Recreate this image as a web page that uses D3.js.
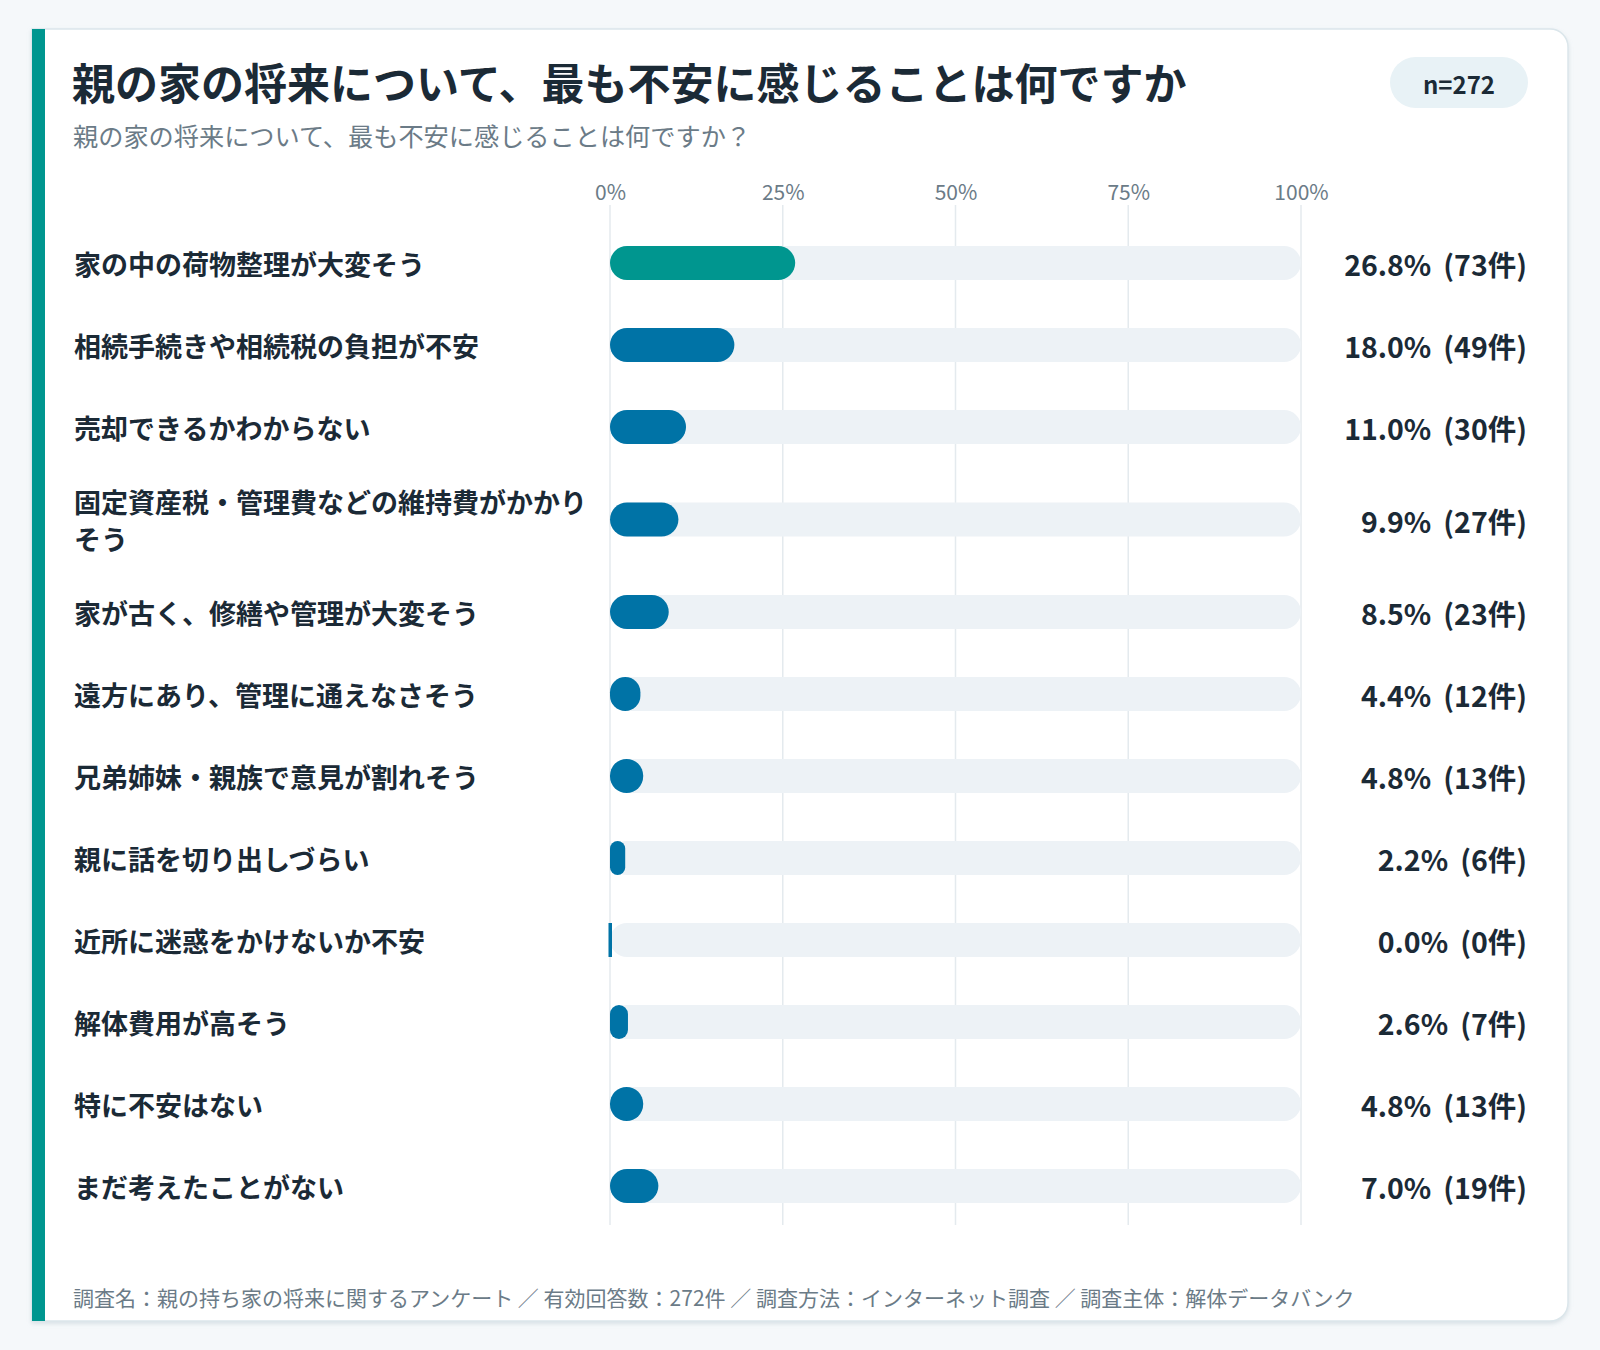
<!DOCTYPE html>
<html>
<head>
<meta charset="utf-8">
<script src="https://cdn.jsdelivr.net/npm/d3@7"></script>
<style>
  body { margin: 0; background: #f5f8fa; }
  svg { display: block; font-family: "Noto Sans CJK JP", "Noto Sans", sans-serif; }
</style>
</head>
<body>
<div id="viz"></div>
<script>
// survey data
const categories = [
  "家の中の荷物整理が大変そう",
  "相続手続きや相続税の負担が不安",
  "売却できるかわからない",
  "固定資産税・管理費などの維持費がかかりそう",
  "家が古く、修繕や管理が大変そう",
  "遠方にあり、管理に通えなさそう",
  "兄弟姉妹・親族で意見が割れそう",
  "親に話を切り出しづらい",
  "近所に迷惑をかけないか不安",
  "解体費用が高そう",
  "特に不安はない",
  "まだ考えたことがない"
];
const percents = [26.8, 18.0, 11.0, 9.9, 8.5, 4.4, 4.8, 2.2, 0.0, 2.6, 4.8, 7.0];
const counts = [73, 49, 30, 27, 23, 12, 13, 6, 0, 7, 13, 19];
const tickValues = [0, 25, 50, 75, 100];
const total = 272;

const title = "親の家の将来について、最も不安に感じることは何ですか";
const subtitle = "親の家の将来について、最も不安に感じることは何ですか？";
const footer = "調査名：親の持ち家の将来に関するアンケート ／ 有効回答数：272件 ／ 調査方法：インターネット調査 ／ 調査主体：解体データバンク";

// dimensions
const width = 1600;
const height = 1350;
const card = {left: 32, top: 29, right: 1568, bottom: 1321};
const barLeft = 610, barRight = 1301;
const barH = 34;
const rowTop = 222;
const rowH = 82;
const lineH = 37;
const labelX = 74;
const labelMaxW = 520;
const valueX = 1527;

const teal = "#00968f";
const blue = "#0073a6";
const dark = "#1b2a36";
const grey = "#6b7b87";

const svg = d3.select("#viz")
  .append("svg")
  .attr("width", width)
  .attr("height", height);

// card background, square left edge, rounded right edge
const r = 18;
const cardPath = d3.path();
cardPath.moveTo(card.left, card.top);
cardPath.lineTo(card.right - r, card.top);
cardPath.arcTo(card.right, card.top, card.right, card.top + r, r);
cardPath.lineTo(card.right, card.bottom - r);
cardPath.arcTo(card.right, card.bottom, card.right - r, card.bottom, r);
cardPath.lineTo(card.left, card.bottom);
cardPath.closePath();

const defs = svg.append("defs");
const shadow = defs.append("filter").attr("id", "shadow")
  .attr("x", "-5%").attr("y", "-5%").attr("width", "110%").attr("height", "110%");
shadow.append("feDropShadow")
  .attr("dx", 0).attr("dy", 2).attr("stdDeviation", 2)
  .attr("flood-color", "#9fb3bf").attr("flood-opacity", 0.35);

svg.append("path")
  .attr("d", cardPath.toString())
  .attr("fill", "#ffffff")
  .attr("stroke", "#dbe6eb")
  .attr("stroke-width", 1.5)
  .attr("filter", "url(#shadow)");

svg.append("rect")
  .attr("x", card.left)
  .attr("y", card.top)
  .attr("width", 13)
  .attr("height", card.bottom - card.top)
  .attr("fill", teal);

// title & subtitle
svg.append("text")
  .attr("x", 72)
  .attr("y", 100)
  .attr("font-size", 43)
  .attr("font-weight", 700)
  .attr("fill", dark)
  .text(title);

svg.append("text")
  .attr("x", 73)
  .attr("y", 146)
  .attr("font-size", 25.2)
  .attr("fill", grey)
  .text(subtitle);

// n badge
svg.append("rect")
  .attr("x", 1390)
  .attr("y", 57)
  .attr("width", 138)
  .attr("height", 51)
  .attr("rx", 25.5)
  .attr("fill", "#e8f2f6");

svg.append("text")
  .attr("x", 1459)
  .attr("y", 83)
  .attr("text-anchor", "middle")
  .attr("dominant-baseline", "central")
  .attr("font-size", 24)
  .attr("font-weight", 700)
  .attr("fill", dark)
  .text("n=" + total);

// x scale
const x = d3.scaleLinear().domain([0, 100]).range([barLeft, barRight]);

// measure label lines (char wrap) to size each row
const measure = svg.append("text")
  .attr("font-size", 27)
  .attr("font-weight", 700)
  .attr("visibility", "hidden");

function wrap(str) {
  const lines = [];
  let cur = "";
  for (const ch of str) {
    measure.text(cur + ch);
    if (cur && measure.node().getComputedTextLength() > labelMaxW) {
      lines.push(cur);
      cur = ch;
    } else {
      cur += ch;
    }
  }
  if (cur) lines.push(cur);
  return lines;
}
const rows = categories.map((c, i) => ({
  label: c,
  lines: wrap(c),
  pct: percents[i],
  count: counts[i],
  first: i === 0
}));
measure.remove();

let yPos = rowTop;
rows.forEach(d => {
  const h = rowH + (d.lines.length - 1) * 21;
  d.cy = yPos + h / 2;
  yPos += h;
});

const gridTop = 205, gridBottom = 1225;

// gridlines
svg.append("g")
  .selectAll("line")
  .data(tickValues)
  .join("line")
  .attr("x1", d => x(d))
  .attr("x2", d => x(d))
  .attr("y1", gridTop)
  .attr("y2", gridBottom)
  .attr("stroke", "#e4eaee")
  .attr("stroke-width", 1.5);

// x axis labels on top
const xAxis = d3.axisTop(x)
  .tickValues(tickValues)
  .tickFormat(d => d + "%")
  .tickSize(0)
  .tickPadding(0);

const axisG = svg.append("g")
  .attr("transform", "translate(0," + 200 + ")")
  .call(xAxis);
axisG.select(".domain").remove();
axisG.selectAll("text")
  .attr("font-family", "\"Noto Sans CJK JP\", sans-serif")
  .attr("font-size", 21)
  .attr("fill", grey);

// rows
const rowG = svg.append("g")
  .selectAll("g")
  .data(rows)
  .join("g");

// track
rowG.append("rect")
  .attr("x", x(0))
  .attr("y", d => d.cy - barH / 2)
  .attr("width", x(100) - x(0))
  .attr("height", barH)
  .attr("rx", barH / 2)
  .attr("fill", "#edf2f6");

// value bar
rowG.append("rect")
  .attr("x", d => d.pct > 0 ? x(0) : x(0) - 1.5)
  .attr("y", d => d.cy - barH / 2)
  .attr("width", d => Math.max(x(d.pct) - x(0), 3.5))
  .attr("height", barH)
  .attr("rx", d => d.pct > 0 ? Math.min(x(d.pct) - x(0), barH) / 2 : 0)
  .attr("fill", d => d.first ? teal : blue);

// category labels
rowG.append("text")
  .attr("x", labelX)
  .attr("font-size", 27)
  .attr("font-weight", 700)
  .attr("fill", dark)
  .each(function(d) {
    const t = d3.select(this);
    const n = d.lines.length;
    d.lines.forEach((line, k) => {
      t.append("tspan")
        .attr("x", labelX)
        .attr("y", d.cy + (k - (n - 1) / 2) * lineH)
        .attr("dominant-baseline", "central")
        .text(line);
    });
  });

// value labels: percent, then count in brackets
const valueText = rowG.append("text")
  .attr("x", valueX)
  .attr("y", d => d.cy)
  .attr("text-anchor", "end")
  .attr("dominant-baseline", "central")
  .attr("font-size", 28.5)
  .attr("font-weight", 700)
  .attr("fill", dark);
valueText.append("tspan")
  .text(d => d.pct.toFixed(1) + "%");
valueText.append("tspan")
  .attr("dx", 12)
  .text(d => "(" + d.count + "件)");

// footer
svg.append("text")
  .attr("x", 73)
  .attr("y", 1297)
  .attr("dominant-baseline", "central")
  .attr("font-size", 21)
  .attr("fill", grey)
  .text(footer);
</script>
</body>
</html>
